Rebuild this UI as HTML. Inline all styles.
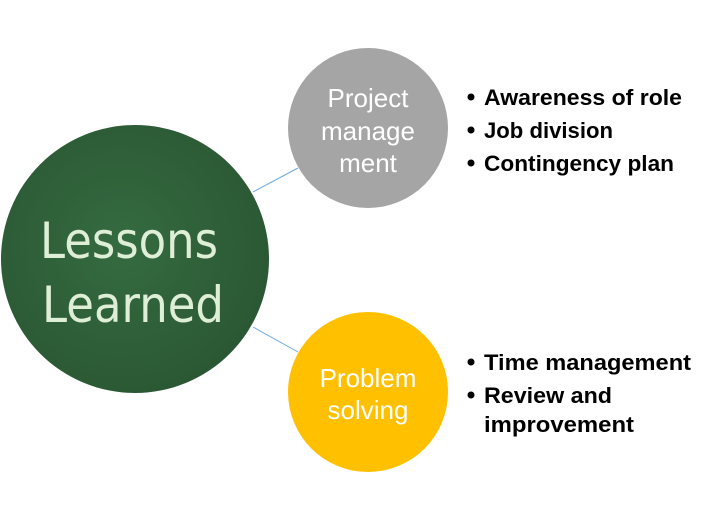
<!DOCTYPE html>
<html><head><meta charset="utf-8"><style>
body{margin:0;background:#fff;}
svg{display:block;}
</style></head><body>
<svg width="708" height="520" viewBox="0 0 708 520">
<defs>
<radialGradient id="g" cx="45%" cy="45%" r="60%">
<stop offset="0" stop-color="#356b40"/><stop offset="1" stop-color="#2a5733"/>
</radialGradient>
</defs>
<line x1="253" y1="192" x2="298" y2="168" stroke="#6fa8dc" stroke-width="1"/>
<line x1="253" y1="327" x2="298" y2="352" stroke="#6fa8dc" stroke-width="1"/>
<circle cx="135" cy="259" r="134" fill="url(#g)"/>
<g font-family="'DejaVu Sans', sans-serif" fill="#dfeed6" font-size="50">
<text x="40" y="258" textLength="178" lengthAdjust="spacingAndGlyphs">Lessons</text>
<text x="42" y="322" textLength="182" lengthAdjust="spacingAndGlyphs">Learned</text>
</g>
<circle cx="368" cy="128" r="80" fill="#a5a5a5"/>
<circle cx="368" cy="392" r="80" fill="#ffc000"/>
<g font-family="'Liberation Sans', sans-serif" fill="#fff" font-size="26" text-anchor="middle">
<text x="368" y="107">Project</text>
<text x="368" y="140">manage</text>
<text x="368" y="172">ment</text>
<text x="368" y="387">Problem</text>
<text x="368" y="419">solving</text>
</g>
<g font-family="'Liberation Sans', sans-serif" fill="#000" font-size="22" font-weight="bold">
<g>
<circle cx="471" cy="97" r="3.5"/><text x="484" y="105" textLength="198" lengthAdjust="spacingAndGlyphs">Awareness of role</text>
<circle cx="471" cy="130" r="3.5"/><text x="484" y="138" textLength="129" lengthAdjust="spacingAndGlyphs">Job division</text>
<circle cx="471" cy="163" r="3.5"/><text x="484" y="171" textLength="190" lengthAdjust="spacingAndGlyphs">Contingency plan</text>
</g>
<g>
<circle cx="471" cy="362" r="3.5"/><text x="484" y="370" textLength="207" lengthAdjust="spacingAndGlyphs">Time management</text>
<circle cx="471" cy="395" r="3.5"/><text x="484" y="403" textLength="128" lengthAdjust="spacingAndGlyphs">Review and</text>
<text x="484" y="432" textLength="150" lengthAdjust="spacingAndGlyphs">improvement</text>
</g>
</g>
</svg>
</body></html>
